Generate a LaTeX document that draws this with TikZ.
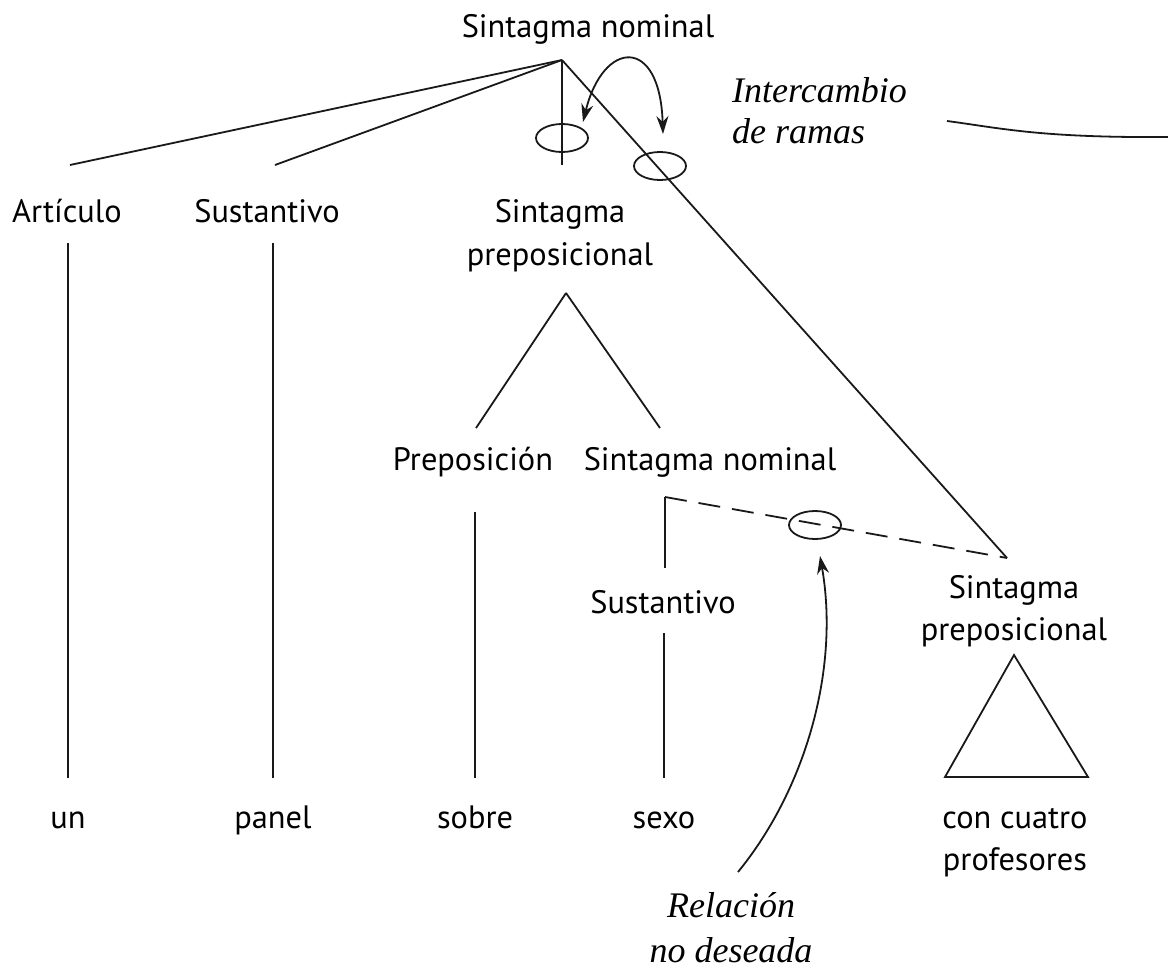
\documentclass[tikz,border=0pt]{standalone}
\usepackage{fontspec}
\setmainfont{PT Sans}
\newfontfamily\glossfont{Liberation Serif}
\usetikzlibrary{arrows.meta,shapes.geometric}
\begin{document}
\begin{tikzpicture}[x=1pt,y=-1pt,
  cat/.style={anchor=base,inner sep=0pt,font=\fontsize{32.4}{40}\selectfont},
  gloss/.style={anchor=base,inner sep=0pt,font=\glossfont\itshape\fontsize{36}{43}\selectfont},
  branch/.style={line width=1.8pt,black!90},
  ring/.style={ellipse,draw,line width=1.8pt,black!90,minimum width=52pt,minimum height=28pt,inner sep=0pt},
  pointer/.style={line width=1.8pt,black!90,-{Stealth[length=18pt,width=12pt]}},
  wrongrel/.style={line width=1.8pt,black!90,dash pattern=on 22pt off 12pt}]
\useasboundingbox (0,0) rectangle (1168,969);

% category labels
\node[cat] (sn)    at (588,37)  {Sintagma nominal};
\node[cat] (art)   at (67,222)  {Artículo};
\node[cat] (sust)  at (267,222) {Sustantivo};
\node[cat] (spa)   at (560,222) {Sintagma};
\node[cat] (spb)   at (560,265) {preposicional};
\node[cat] (prep)  at (473,470) {Preposición};
\node[cat] (sn2)   at (710,470) {Sintagma nominal};
\node[cat] (sust2) at (663,613) {Sustantivo};
\node[cat] (sp2a)  at (1014,598) {Sintagma};
\node[cat] (sp2b)  at (1014,640) {preposicional};

% words
\node[cat] (w1) at (68,828)  {un};
\node[cat] (w2) at (273,828) {panel};
\node[cat] (w3) at (475,828) {sobre};
\node[cat] (w4) at (664,828) {sexo};
\node[cat] (w5a) at (1015,828) {con cuatro};
\node[cat] (w5b) at (1015,870) {profesores};

% annotations
\node[gloss,anchor=base west] (ia) at (732,102) {Intercambio};
\node[gloss,anchor=base west] (ib) at (732,143) {de ramas};
\node[gloss] (ra) at (731,917) {Relación};
\node[gloss] (rb) at (731,962) {no deseada};

% branching points
\coordinate (top)   at (562,60);
\coordinate (artT)  at (70,165);
\coordinate (sustT) at (275,165);
\coordinate (spT)   at (562,165);
\coordinate (sp2T)  at (1007,558);
\coordinate (spX)   at (566,293);
\coordinate (prepT) at (476,428);
\coordinate (sn2T)  at (660,428);
\coordinate (sn2X)  at (665,497);
\coordinate (sust2T) at (665,568);

% tree branches
\draw[branch] (top) -- (artT);
\draw[branch] (top) -- (sustT);
\draw[branch] (top) -- (spT);
\draw[branch] (top) -- (sp2T);
\draw[branch] (spX) -- (prepT);
\draw[branch] (spX) -- (sn2T);
\draw[branch] (sn2X) -- (sust2T);
\draw[wrongrel] (sn2X) -- (sp2T);

% terminal stems
\coordinate (s1a) at (68,243);  \coordinate (s1b) at (68,778);
\coordinate (s2a) at (273,243); \coordinate (s2b) at (273,778);
\coordinate (s3a) at (475,512); \coordinate (s3b) at (475,778);
\coordinate (s4a) at (664,633); \coordinate (s4b) at (664,778);
\draw[branch] (s1a) -- (s1b);
\draw[branch] (s2a) -- (s2b);
\draw[branch] (s3a) -- (s3b);
\draw[branch] (s4a) -- (s4b);

% collapsed constituent
\coordinate (triA) at (1014,655);
\coordinate (triL) at (945,777);
\coordinate (triR) at (1088,777);
\draw[branch,line join=miter] (triA) -- (triL) -- (triR) -- cycle;

% rings on the swapped and unwanted links
\node[ring] (r1) at (562,138) {};
\node[ring] (r2) at (660,166) {};
\node[ring] (r3) at (815,525) {};

% swap arrow
\coordinate (swL) at (583,122);
\coordinate (swR) at (663,134);
\draw[line width=1.8pt,black!90,{Stealth[length=18pt,width=12pt]}-{Stealth[length=18pt,width=12pt]}]
  (swL) .. controls (603,40) and (660,35) .. (swR);

% leader from the swap note
\coordinate (ldA) at (947,121);
\coordinate (ldB) at (1168,137);
\draw[line width=1.8pt,black!90] (ldA) .. controls (1000,128) and (1040,138) .. (ldB);

% arrow to the unwanted relation
\coordinate (relA) at (738,872);
\coordinate (relB) at (820,556);
\draw[pointer] (relA) .. controls (805,790) and (840,670) .. (relB);
\end{tikzpicture}
\end{document}
